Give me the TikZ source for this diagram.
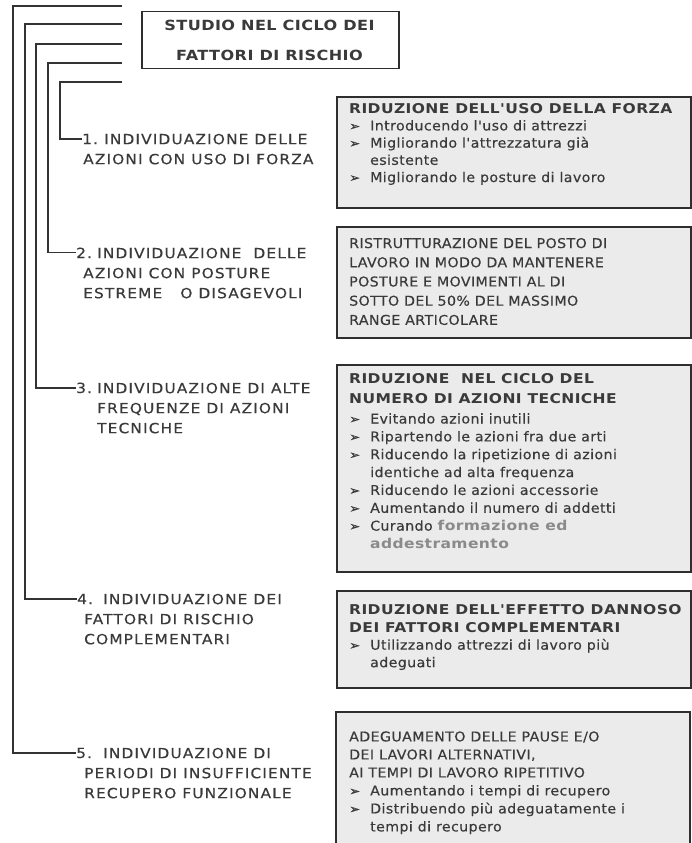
\documentclass[tikz,border=0pt]{standalone}
\usepackage{fontspec}
\setmainfont{DejaVu Sans}
\newfontfamily\itemfont[FakeStretch=1.1,LetterSpace=8,UprightFeatures={FakeBold=0.35}]{DejaVu Sans}
\newfontfamily\boxfont[FakeStretch=1.05,LetterSpace=3,UprightFeatures={FakeBold=0.3},BoldFeatures={FakeStretch=1.15}]{DejaVu Sans}
\definecolor{txt}{HTML}{3A3A3A}
\definecolor{boxfill}{HTML}{EBEBEB}
\definecolor{boxline}{HTML}{2E2E2E}
\definecolor{lightt}{HTML}{8A8A8A}
\definecolor{connc}{HTML}{333333}
\newcommand{\myb}{\makebox[21pt][l]{\fontsize{12.5}{12}\selectfont ➢}}
\newcommand{\myind}{\hspace*{21pt}}
\begin{document}
\begin{tikzpicture}[x=1pt,y=-1pt,
  rbox/.style={draw=boxline, fill=boxfill, line width=1.8pt, inner sep=0pt, anchor=north west, minimum width=354pt},
  conn/.style={draw=connc, line width=1.3pt},
  itm/.style={anchor=north west, inner sep=0pt, align=left, text=txt, font=\itemfont\fontsize{14}{20}\selectfont},
  num/.style={anchor=base west, inner sep=0pt, text=txt, font=\itemfont\fontsize{14}{20}\selectfont},
  btxt/.style={anchor=north west, inner sep=0pt, align=left, text=txt, font=\boxfont\fontsize{13.5}{#1}\selectfont}]
\useasboundingbox (0,0) rectangle (691,843);
\fill[white] (0,0) rectangle (691,843);

% title
\node[draw=boxline, line width=1.5pt, inner sep=0pt, anchor=north west, minimum width=257pt, minimum height=57pt] (tbox) at (141,11) {};
\node[anchor=north, inner sep=0pt, align=center, text=txt, font=\boxfont\bfseries\fontsize{14}{30}\selectfont] (title) at (269.5,9.7) {\strut STUDIO NEL CICLO DEI\\FATTORI DI RISCHIO};

% items
\node[num] (n1) at (82,144) {1.};
\node[itm] (t1) at (83,130) {\strut\hspace*{21pt}INDIVIDUAZIONE DELLE\\AZIONI CON USO DI FORZA};
\node[num] (n2) at (76,258) {2.};
\node[itm] (t2) at (83,244) {\strut\hspace*{14pt}INDIVIDUAZIONE\ \ DELLE\\AZIONI CON POSTURE\\ESTREME\ \ \ O DISAGEVOLI};
\node[num] (n3) at (76,393) {3.};
\node[itm] (t3) at (97,379) {\strut INDIVIDUAZIONE DI ALTE\\FREQUENZE DI AZIONI\\TECNICHE};
\node[num] (n4) at (77,604) {4.};
\node[itm] (t4) at (84,590) {\strut\hspace*{19pt}INDIVIDUAZIONE DEI\\FATTORI DI RISCHIO\\COMPLEMENTARI};
\node[num] (n5) at (76,758) {5.};
\node[itm] (t5) at (84,744) {\strut\hspace*{19pt}INDIVIDUAZIONE DI\\PERIODI DI INSUFFICIENTE\\RECUPERO FUNZIONALE};

% connectors
\coordinate (s1) at (122,6);  \coordinate (c1) at (13,6);
\coordinate (s2) at (122,24); \coordinate (c2) at (25,24);
\coordinate (s3) at (122,44); \coordinate (c3) at (36,44);
\coordinate (s4) at (122,63); \coordinate (c4) at (48,63);
\coordinate (s5) at (122,82); \coordinate (c5) at (60,82);
\draw[conn] (s1) -- (c1) |- (n5.west);
\draw[conn] (s2) -- (c2) |- (n4.west);
\draw[conn] (s3) -- (c3) |- (n3.west);
\draw[conn] (s4) -- (c4) |- (n2.west);
\draw[conn] (s5) -- (c5) |- (n1.west);

% right boxes
\node[rbox, minimum height=111pt] (bA) at (336,96) {};
\node[btxt=17.2] (tA) at (349,101) {\strut\textbf{RIDUZIONE DELL'USO DELLA FORZA}\\
\myb Introducendo l'uso di attrezzi\\
\myb Migliorando l'attrezzatura già\\
\myind esistente\\
\myb Migliorando le posture di lavoro};

\node[rbox, minimum height=111pt] (bB) at (336,226) {};
\node[btxt=19.2] (tB) at (349,234.4) {\strut RISTRUTTURAZIONE DEL POSTO DI\\
LAVORO IN MODO DA MANTENERE\\
POSTURE E MOVIMENTI AL DI\\
SOTTO DEL 50\% DEL MASSIMO\\
RANGE ARTICOLARE};

\node[rbox, minimum height=207pt] (bC) at (336,364) {};
\node[btxt=20] (tC) at (349,368.8) {\strut\textbf{RIDUZIONE\ \ NEL CICLO DEL}\\
\textbf{NUMERO DI AZIONI TECNICHE}};
\node[btxt=17.85] (tC2) at (349,410.8) {\strut\myb Evitando azioni inutili\\
\myb Ripartendo le azioni fra due arti\\
\myb Riducendo la ripetizione di azioni\\
\myind identiche ad alta frequenza\\
\myb Riducendo le azioni accessorie\\
\myb Aumentando il numero di addetti\\
\myb Curando {\color{lightt}\bfseries formazione ed}\\
\myind{\color{lightt}\bfseries addestramento}};

\node[rbox, minimum height=97pt] (bD) at (336,590) {};
\node[btxt=17.5] (tD) at (349,602.25) {\strut\textbf{RIDUZIONE DELL'EFFETTO DANNOSO}\\
\textbf{DEI FATTORI COMPLEMENTARI}\\
\myb Utilizzando attrezzi di lavoro più\\
\myind adeguati};

\fill[boxfill] (336,712) rectangle (690,843);
\draw[draw=boxline, line width=1.8pt] (336,845) -- (336,712) -- (690,712) -- (690,845);
\node[btxt=18] (tE) at (349,728.6) {\strut ADEGUAMENTO DELLE PAUSE E/O\\
DEI LAVORI ALTERNATIVI,\\
AI TEMPI DI LAVORO RIPETITIVO\\
\myb Aumentando i tempi di recupero\\
\myb Distribuendo più adeguatamente i\\
\myind tempi di recupero};
\end{tikzpicture}
\end{document}
